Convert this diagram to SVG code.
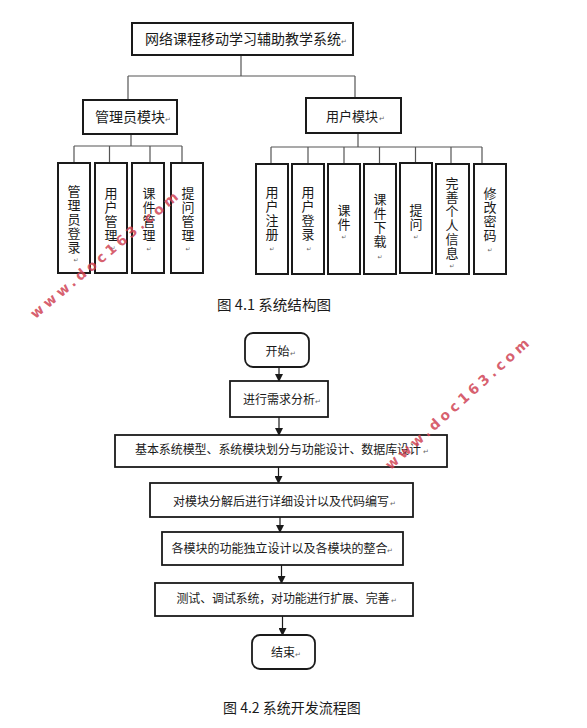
<svg xmlns="http://www.w3.org/2000/svg" width="587" height="728" viewBox="0 0 587 728">
<style>
.box{fill:#fff;stroke:#1a1a1a;stroke-width:2}
.fbox{fill:#fff;stroke:#1a1a1a;stroke-width:1.8}
.ln{fill:none;stroke:#555;stroke-width:1.2}
.t{font-family:"Noto Sans CJK SC","Liberation Serif",serif;fill:#1a1a1a}
.v{font-family:"Noto Sans CJK SC",serif;font-size:13px;letter-spacing:1px;fill:#1a1a1a;writing-mode:vertical-rl}
.m{font-family:"DejaVu Sans",sans-serif;font-size:7px;fill:#666}
.mv{font-family:"DejaVu Sans",sans-serif;font-size:6px;fill:#666;text-anchor:middle;dominant-baseline:central}
.wm{font-family:"DejaVu Sans",sans-serif;font-weight:bold;font-size:14px;fill:#d04455;fill-opacity:0.85;text-anchor:middle;dominant-baseline:central}
</style>
<defs>
<marker id="ah" markerWidth="8" markerHeight="8" refX="7" refY="4" orient="auto" markerUnits="userSpaceOnUse">
<path d="M0,0 L8,4 L0,8 Z" fill="#1a1a1a"/>
</marker>
</defs>

<g id="connectors">
<path class="ln" d="M241,55 V76 M128,76 H355 M128,76 V100 M355,76 V98"/>
<path class="ln" d="M131,134 V146 M74,146 H182 M74,146 V163 M109.5,146 V163 M150,146 V163 M182,146 V163"/>
<path class="ln" d="M358,133 V147 M271,147 H482 M271,147 V164 M308,147 V164 M344,147 V164 M379.5,147 V164 M415.5,147 V164 M451,147 V164 M482,147 V164"/>
<g stroke="#1a1a1a" stroke-width="1.2" marker-end="url(#ah)">
<line x1="279" y1="367" x2="279" y2="381"/>
<line x1="279" y1="417" x2="279" y2="435"/>
<line x1="278.5" y1="467" x2="278.5" y2="483"/>
<line x1="280" y1="517" x2="280" y2="532"/>
<line x1="281.5" y1="565" x2="281.5" y2="583"/>
<line x1="282.5" y1="616" x2="282.5" y2="635"/>
</g>
</g>

<g id="root">
<rect class="box" x="132" y="23" width="221" height="32"/>
<text class="t" x="145" y="44" font-size="14">网络课程移动学习辅助教学系统</text>
<text class="m" x="341" y="44">↵</text>
</g>
<g id="admin">
<rect class="box" x="83" y="100" width="94" height="34"/>
<text class="t" x="95" y="122" font-size="14">管理员模块</text>
<text class="m" x="165" y="122">↵</text>
</g>
<g id="user">
<rect class="box" x="306" y="98" width="95" height="35"/>
<text class="t" x="326" y="121" font-size="13">用户模块</text>
<text class="m" x="379" y="121">↵</text>
</g>

<g id="a1"><rect class="box" x="58" y="163" width="32" height="110"/>
<text class="v" x="74" y="185">管理员登录</text>
<text class="mv" x="76" y="259">↵</text></g>
<g id="a2"><rect class="box" x="95" y="163" width="32" height="110"/>
<text class="v" x="111" y="186.5">用户管理</text>
<text class="mv" x="113" y="247">↵</text></g>
<g id="a3"><rect class="box" x="132" y="163" width="32" height="110"/>
<text class="v" x="149" y="186.5">课件管理</text>
<text class="mv" x="149" y="248">↵</text></g>
<g id="a4"><rect class="box" x="171" y="163" width="32" height="110"/>
<text class="v" x="188" y="186.5">提问管理</text>
<text class="mv" x="188" y="248">↵</text></g>

<g id="u1"><rect class="box" x="256" y="164" width="32" height="110"/>
<text class="v" x="272" y="185.5">用户注册</text>
<text class="mv" x="272" y="248">↵</text></g>
<g id="u2"><rect class="box" x="292" y="164" width="32" height="110"/>
<text class="v" x="308" y="185.5">用户登录</text>
<text class="mv" x="309" y="248">↵</text></g>
<g id="u3"><rect class="box" x="328" y="164" width="32" height="110"/>
<text class="v" x="344" y="203.5">课件</text>
<text class="mv" x="344" y="236.5">↵</text></g>
<g id="u4"><rect class="box" x="364" y="164" width="32" height="110"/>
<text class="v" x="380" y="193" letter-spacing="1.5">课件下载</text>
<text class="mv" x="380" y="256">↵</text></g>
<g id="u5"><rect class="box" x="400" y="163" width="32" height="110"/>
<text class="v" x="416" y="203.5">提问</text>
<text class="mv" x="416" y="236.5">↵</text></g>
<g id="u6"><rect class="box" x="436" y="164" width="33" height="110"/>
<text class="v" x="452" y="177">完善个人信息</text>
<text class="mv" x="452" y="265.5">↵</text></g>
<g id="u7"><rect class="box" x="474" y="164" width="32" height="110"/>
<text class="v" x="490" y="186.5" letter-spacing="1.5">修改密码</text>
<text class="mv" x="490" y="249">↵</text></g>

<text class="t" x="217" y="310" font-size="14" font-family="Liberation Mono,Noto Sans CJK SC,monospace" textLength="114" lengthAdjust="spacingAndGlyphs">图 4.1 系统结构图</text>

<g id="f1"><rect class="fbox" x="245" y="333" width="64" height="34" rx="8"/>
<text class="t" x="265.5" y="356" font-size="12">开始</text><text class="m" x="290" y="356">↵</text></g>
<g id="f2"><rect class="fbox" x="230" y="381" width="98" height="36"/>
<text class="t" x="243" y="404" font-size="12">进行需求分析</text><text class="m" x="315" y="404">↵</text></g>
<g id="f3"><rect class="fbox" x="115" y="435" width="332" height="32"/>
<text class="t" x="135" y="453.5" font-size="12" textLength="286" lengthAdjust="spacing">基本系统模型、系统模块划分与功能设计、数据库设计</text><text class="m" x="423" y="453.5">↵</text></g>
<g id="f4"><rect class="fbox" x="150" y="483" width="263" height="34"/>
<text class="t" x="173" y="506" font-size="12">对模块分解后进行详细设计以及代码编写</text><text class="m" x="390" y="506">↵</text></g>
<g id="f5"><rect class="fbox" x="162" y="532" width="241" height="33"/>
<text class="t" x="171.5" y="553" font-size="12">各模块的功能独立设计以及各模块的整合</text><text class="m" x="387" y="553">↵</text></g>
<g id="f6"><rect class="fbox" x="155" y="583" width="258" height="33"/>
<text class="t" x="176.5" y="602.5" font-size="12" textLength="213" lengthAdjust="spacing">测试、调试系统，对功能进行扩展、完善</text><text class="m" x="391" y="602.5">↵</text></g>
<g id="f7"><rect class="fbox" x="252" y="635" width="63" height="34" rx="8"/>
<text class="t" x="271" y="657" font-size="12">结束</text><text class="m" x="295" y="657">↵</text></g>

<text class="t" x="223" y="713" font-size="14" font-family="Liberation Serif,Noto Sans CJK SC,serif">图 4.2 系统开发流程图</text>

<text class="wm" transform="translate(104,255) rotate(-40)" textLength="188" lengthAdjust="spacing">www.doc163.com</text>
<text class="wm" transform="translate(457,404) rotate(-42)" textLength="188" lengthAdjust="spacing">www.doc163.com</text>
</svg>
